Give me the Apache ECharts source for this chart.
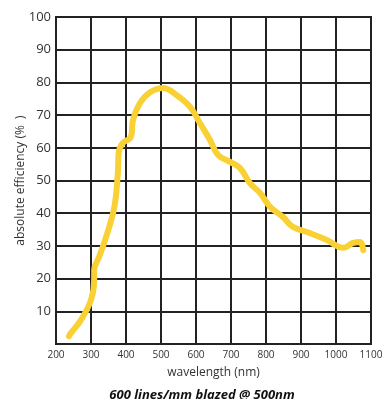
<!DOCTYPE html>
<html>
<head>
<meta charset="utf-8">
<script src="https://cdn.jsdelivr.net/npm/echarts@6/dist/echarts.min.js"></script>
<style>html,body{margin:0;padding:0;background:#fff}#c{width:388px;height:399px}</style>
</head>
<body>
<div id="c"></div>
<script>
var wavelength = [237, 243, 271, 300, 309, 309, 323, 343, 363, 371, 377, 379, 391, 414, 420, 440, 469, 506, 546, 583, 611, 640, 663, 697, 726, 754, 783, 811, 849, 877, 926, 974, 1020, 1049, 1069, 1078];
var efficiency = [2.4, 3.4, 7.3, 13.5, 19.6, 22.6, 26.6, 32.7, 40, 45, 53, 58.4, 61.5, 63.3, 68.5, 73.7, 77, 78.3, 76, 72.5, 67.6, 62.4, 57.8, 55.7, 53.8, 49.2, 46.2, 42, 38.8, 35.8, 33.9, 31.8, 29.4, 30.9, 31.2, 28.7];
var xTicks = [200, 300, 400, 500, 600, 700, 800, 900, 1000, 1100];
var yTicks = [10, 20, 30, 40, 50, 60, 70, 80, 90, 100];

var pts = wavelength.map(function (w, i) { return [w, efficiency[i]]; });
var font = '"Open Sans", "Noto Sans", sans-serif';
var chart = echarts.init(document.getElementById('c'), null, {renderer: 'canvas'});
chart.setOption({
  animation: false,
  title: {
    text: '600 lines/mm blazed @ 500nm',
    left: 197, top: 384, textAlign: 'center',
    textStyle: {fontFamily: font, fontSize: 13, fontWeight: 'bold', fontStyle: 'italic', color: '#111'}
  },
  grid: {left: 56, top: 17, right: 17, bottom: 55, show: true, borderColor: '#222', borderWidth: 2,
    outerBoundsMode: 'none', containLabel: false},
  xAxis: {
    type: 'value', min: 200, max: 1100, interval: 100,
    name: 'wavelength (nm)', nameLocation: 'middle', nameGap: 23, nameMoveOverlap: false,
    nameTextStyle: {fontFamily: font, fontSize: 12, color: '#333'},
    axisLine: {show: false}, axisTick: {show: false},
    axisLabel: {fontFamily: font, fontSize: 10, color: '#333', margin: 6,
      formatter: function (v) { return xTicks.indexOf(v) >= 0 ? String(v) : ''; }},
    splitLine: {show: true, lineStyle: {color: '#222', width: 2}}
  },
  yAxis: {
    type: 'value', min: 0, max: 100, interval: 10,
    name: 'absolute efficiency (%  )', nameLocation: 'middle', nameGap: 29, nameMoveOverlap: false,
    nameTextStyle: {fontFamily: font, fontSize: 12, color: '#333'},
    axisLine: {show: false}, axisTick: {show: false},
    axisLabel: {fontFamily: font, fontSize: 13, color: '#333', margin: 5,
      formatter: function (v) { return yTicks.indexOf(v) >= 0 ? String(v) : ''; }},
    splitLine: {show: true, lineStyle: {color: '#222', width: 2}}
  },
  series: [{
    type: 'line', data: pts, smooth: 0.4, symbol: 'none',
    lineStyle: {color: '#F9D135', width: 6, cap: 'round', join: 'round'}
  }]
});
</script>
</body>
</html>
